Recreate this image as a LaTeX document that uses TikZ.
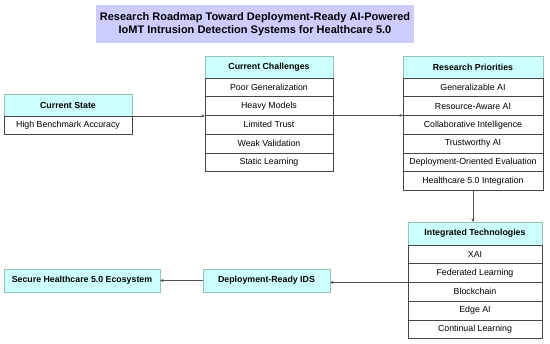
\documentclass[tikz,border=0pt]{standalone}
\usepackage{fontspec}
\setmainfont{Liberation Sans}
\usetikzlibrary{arrows.meta,positioning}
\definecolor{TitleFill}{RGB}{204,204,255}
\definecolor{HeadFill}{RGB}{204,255,255}
\definecolor{HeadLine}{RGB}{150,195,180}
\definecolor{RowLine}{RGB}{70,70,70}
\definecolor{LinkGray}{RGB}{80,80,80}
\tikzset{
  head/.style={draw=HeadLine, fill=HeadFill, font=\bfseries\fontsize{8.8}{10}\selectfont, minimum height=22pt, inner sep=0pt, outer sep=0pt},
  item/.style={draw=RowLine, fill=white, font=\fontsize{8.8}{10}\selectfont, minimum height=18.7pt, inner sep=0pt, outer sep=0pt},
  link/.style={-{Stealth[length=3.5pt,width=3pt]}, LinkGray, line width=0.7pt}
}

\begin{document}
\begin{tikzpicture}[x=1pt, y=-1pt, node distance=0pt]
\useasboundingbox (0,0) rectangle (550,344);
% title
\node[fill=TitleFill, minimum width=318pt, minimum height=38pt, align=center, font=\bfseries\fontsize{11}{13}\selectfont] (title) at (255,24) {Research Roadmap Toward Deployment-Ready AI-Powered\\IoMT Intrusion Detection Systems for Healthcare 5.0};

% current state
\node[head, minimum width=128pt] (state) at (68,105) {Current State};
\node[item, minimum width=128pt, below=of state] (st1) {High Benchmark Accuracy};

% current challenges
\node[head, minimum width=128pt] (chal) at (269,67) {Current Challenges};
\node[item, minimum width=128pt, below=of chal] (ch1) {Poor Generalization};
\node[item, minimum width=128pt, below=of ch1] (ch2) {Heavy Models};
\node[item, minimum width=128pt, below=of ch2] (ch3) {Limited Trust};
\node[item, minimum width=128pt, below=of ch3] (ch4) {Weak Validation};
\node[item, minimum width=128pt, below=of ch4] (ch5) {Static Learning};

% research priorities
\node[head, minimum width=140pt] (prio) at (473,67) {Research Priorities};
\node[item, minimum width=140pt, below=of prio] (pr1) {Generalizable AI};
\node[item, minimum width=140pt, below=of pr1] (pr2) {Resource-Aware AI};
\node[item, minimum width=140pt, below=of pr2] (pr3) {Collaborative Intelligence};
\node[item, minimum width=140pt, below=of pr3] (pr4) {Trustworthy AI};
\node[item, minimum width=140pt, below=of pr4] (pr5) {Deployment-Oriented Evaluation};
\node[item, minimum width=140pt, below=of pr5] (pr6) {Healthcare 5.0 Integration};

% integrated technologies
\node[head, minimum width=134pt, minimum height=23pt] (tech) at (475,233.5) {Integrated Technologies};
\node[item, minimum width=134pt, below=of tech] (it1) {XAI};
\node[item, minimum width=134pt, below=of it1] (it2) {Federated Learning};
\node[item, minimum width=134pt, below=of it2] (it3) {Blockchain};
\node[item, minimum width=134pt, below=of it3] (it4) {Edge AI};
\node[item, minimum width=134pt, below=of it4] (it5) {Continual Learning};

% outcomes
\node[head, minimum width=127pt, minimum height=23pt] (ids) at (266.5,280.5) {Deployment-Ready IDS};
\node[head, minimum width=156pt, minimum height=23pt] (eco) at (82,280.5) {Secure Healthcare 5.0 Ecosystem};

% links
\draw[link] (state.south east) -- (state.south east -| ch2.south west);
\draw[link] (ch2.south east) -- (ch2.south east -| pr2.west);
\draw[link] (pr6.south) -- (pr6.south |- tech.north);
\draw[link] (it2.south west) -- (it2.south west -| ids.east);
\draw[link] (ids.west) -- (eco.east);
\end{tikzpicture}
\end{document}
